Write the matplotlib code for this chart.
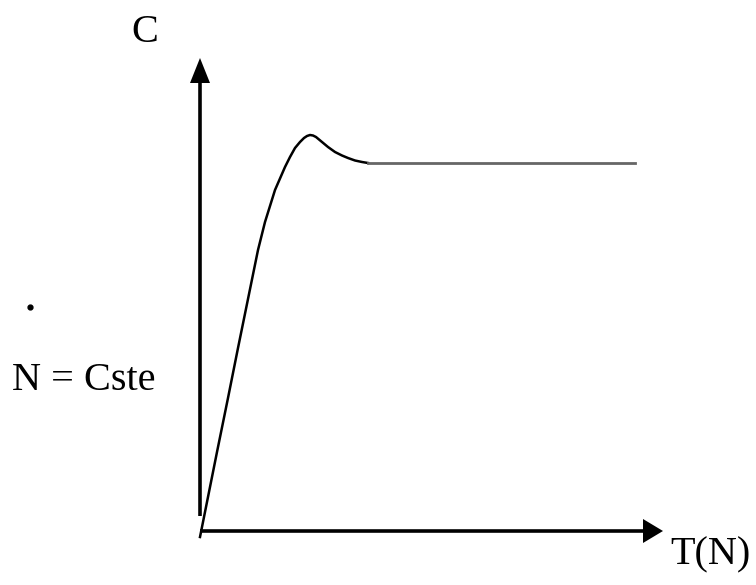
import matplotlib
matplotlib.use('Agg')
import matplotlib.pyplot as plt

# step response (T in axis units, C in axis units)
t_rise = [0.00, 0.17, 0.28, 0.38, 0.48, 0.58, 0.65, 0.75, 0.85, 0.90, 0.95,
          1.00, 1.04, 1.07, 1.10, 1.13, 1.16, 1.22, 1.28, 1.35, 1.42, 1.48,
          1.55, 1.62, 1.68]
c_rise = [-0.06, 0.79, 1.33, 1.83, 2.32, 2.81, 3.09, 3.41, 3.64, 3.74, 3.83,
          3.89, 3.93, 3.95, 3.96, 3.955, 3.94, 3.89, 3.84, 3.79, 3.755, 3.73,
          3.705, 3.69, 3.68]
t_flat = [1.68, 4.35]
c_flat = [3.68, 3.68]

x_label = 'T(N)'
y_label = 'C'
note = 'N = Cste'

fig = plt.figure(figsize=(7.56, 5.85), dpi=100)
ax = fig.add_axes([0, 0, 1, 1])
ax.set_xlim(-2.0, 5.56)
ax.set_ylim(-0.54, 5.31)
ax.axis('off')

# axes arrows
ax.plot([0, 4.45], [0, 0], color='black', lw=2.6, solid_capstyle='butt')
ax.fill([4.43, 4.63, 4.43], [0.12, 0.0, -0.12], color='black', lw=0)
ax.plot([0, 0], [0.15, 4.52], color='black', lw=2.6, solid_capstyle='butt')
ax.fill([-0.10, 0.0, 0.10], [4.48, 4.73, 4.48], color='black', lw=0)

# curve
ax.plot(t_rise, c_rise, color='black', lw=1.8, solid_joinstyle='round')
ax.plot(t_flat, c_flat, color='#666666', lw=2.0)

font = dict(family='Liberation Serif', size=29, color='black')
ax.text(-0.55, 4.99, y_label, ha='center', va='center', **font)
ax.text(5.10, -0.24, x_label, ha='center', va='center', **font)
ax.text(-1.16, 1.50, note, ha='center', va='center', **font)
ax.plot([-1.70], [2.24], 'o', color='black', ms=3.5)

fig.savefig('out.png', dpi=100)
